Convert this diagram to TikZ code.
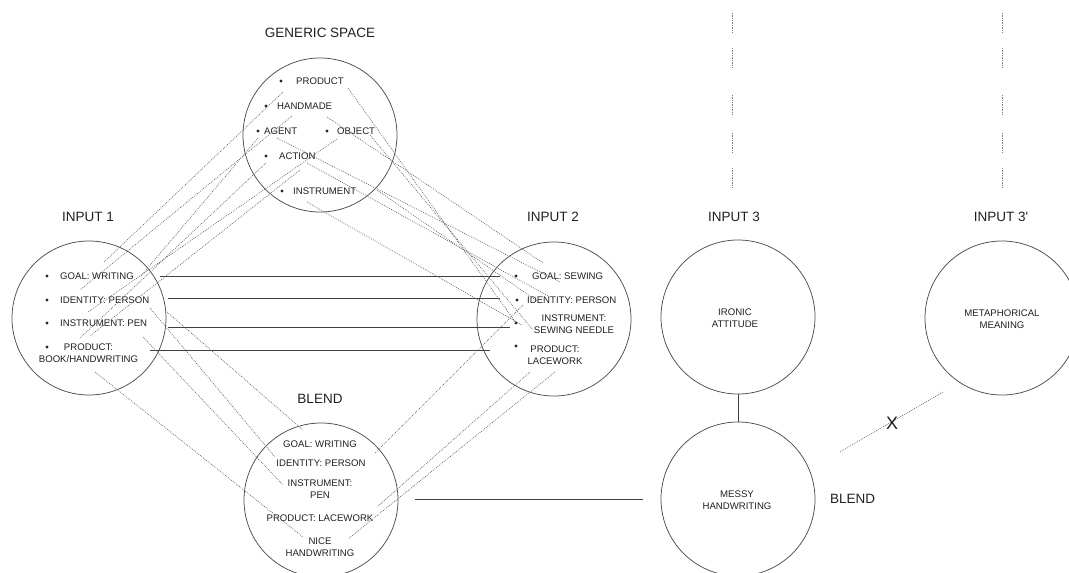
\documentclass[tikz,border=0pt]{standalone}
\usepackage{fontspec}
\newfontfamily\dfont{Liberation Sans}
\begin{document}
\begin{tikzpicture}[x=1pt,y=-1pt,
  ink/.style={text=black!88},
  space/.style={circle,draw=black!70,line width=0.75pt,minimum size=154pt,inner sep=0pt},
  title/.style={ink,font=\dfont\fontsize{13.5}{16}\selectfont,inner sep=0pt},
  item/.style={ink,font=\dfont\fontsize{9.6}{12}\selectfont,inner sep=0pt,anchor=west,text height=7pt,text depth=0pt},
  citem/.style={ink,font=\dfont\fontsize{9.6}{12}\selectfont,inner sep=0pt,align=center},
  bul/.style={circle,fill=black!85,inner sep=0pt,minimum size=3.3pt},
  link/.style={draw=black!75,line width=0.65pt},
  map/.style={draw=black!62,line width=0.7pt,dash pattern=on 0.8pt off 1.2pt},
  tick/.style={draw=black!50,line width=0.55pt,dash pattern=on 0.7pt off 1pt}]
\useasboundingbox (0,0) rectangle (1069,573);

% ---- mental spaces ----
\node[space] (gen)  at (320,135) {};
\node[space] (in1)  at (89,318)  {};
\node[space] (in2)  at (554,319) {};
\node[space] (bl)   at (321,500) {};
\node[space] (in3)  at (738,317) {};
\node[space] (in3p) at (1002,318) {};
\node[space] (bl2)  at (738,499) {};

% ---- titles ----
\node[title] (tgen)  at (320,33)  {GENERIC SPACE};
\node[title] (tin1)  at (88,217)  {INPUT 1};
\node[title] (tin2)  at (553,217) {INPUT 2};
\node[title] (tbl)   at (320,399) {BLEND};
\node[title] (tin3)  at (734,217) {INPUT 3};
\node[title] (tin3p) at (1001,217) {INPUT 3'};
\node[title,anchor=west] (tbl2) at (830,499) {BLEND};

% ---- generic space ----
\node[bul] (gb1) at (281,81)  {}; \node[item] (gprod) at (296,81)  {PRODUCT};
\node[bul] (gb2) at (266,106) {}; \node[item] (ghand) at (277,106) {HANDMADE};
\node[bul] (gb3) at (258,131) {}; \node[item] (gagen) at (264,131) {AGENT};
\node[bul] (gb4) at (327,131) {}; \node[item] (gobj)  at (337,131) {OBJECT};
\node[bul] (gb5) at (266,156) {}; \node[item] (gact)  at (279,156) {ACTION};
\node[bul] (gb6) at (282,191) {}; \node[item] (ginst) at (293,191) {INSTRUMENT};

% ---- input 1 ----
\node[bul] (ab1) at (47,276) {}; \node[item] (agoal) at (60,276) {GOAL: WRITING};
\node[bul] (ab2) at (47,300) {}; \node[item] (aid)   at (60,300) {IDENTITY: PERSON};
\node[bul] (ab3) at (47,323) {}; \node[item] (ainst) at (60,323) {INSTRUMENT: PEN};
\node[bul] (ab4) at (47,347) {}; \node[citem] (aprod) at (88.5,353) {PRODUCT:\\BOOK/HANDWRITING};

% ---- input 2 ----
\node[bul] (bb1) at (516,276) {}; \node[item] (bgoal) at (532,276) {GOAL: SEWING};
\node[bul] (bb2) at (517,300) {}; \node[item] (bid)   at (527,300) {IDENTITY: PERSON};
\node[bul] (bb3) at (516,323) {}; \node[citem] (binst) at (574,324) {INSTRUMENT:\\SEWING NEEDLE};
\node[bul] (bb4) at (516,346) {}; \node[citem] (bprod) at (555,355) {PRODUCT:\\LACEWORK};

% ---- blend ----
\node[citem] (cgoal) at (320,444) {GOAL: WRITING};
\node[citem] (cid)   at (321,463) {IDENTITY: PERSON};
\node[citem] (cinst) at (320,489) {INSTRUMENT:\\PEN};
\node[citem] (cprod) at (320,518) {PRODUCT: LACEWORK};
\node[citem] (cnice) at (320,547) {NICE\\HANDWRITING};

% ---- second network ----
\node[citem] (iron) at (735,318)  {IRONIC\\ATTITUDE};
\node[citem] (meta) at (1002,319) {METAPHORICAL\\MEANING};
\node[citem] (mess) at (737,500)  {MESSY\\HANDWRITING};

% ---- cross-space counterpart links ----
\coordinate (h1a) at (160,276); \coordinate (h1b) at (500,276);
\coordinate (h2a) at (168,298); \coordinate (h2b) at (500,298);
\coordinate (h3a) at (168,327); \coordinate (h3b) at (510,327);
\coordinate (h4a) at (150,350); \coordinate (h4b) at (490,350);
\draw[link] (h1a) -- (h1b);
\draw[link] (h2a) -- (h2b);
\draw[link] (h3a) -- (h3b);
\draw[link] (h4a) -- (h4b);

% blend to blend, input 3 to blend
\coordinate (bba) at (415,499); \coordinate (bbb) at (643,499);
\draw[link] (bba) -- (bbb);
\draw[link] (in3) -- (bl2);

% ---- generic space to input 1 ----
\coordinate (p1) at (283,92);  \coordinate (q1) at (104,262);
\coordinate (p2) at (292,116); \coordinate (q2) at (80,290);
\coordinate (p3) at (258,138); \coordinate (q3) at (140,277);
\coordinate (p4) at (337,139); \coordinate (q4) at (88,312);
\coordinate (p5) at (266,163); \coordinate (q5) at (80,338);
\coordinate (p6) at (300,170); \coordinate (q6) at (90,336);
\foreach \i in {1,...,6} \draw[map] (p\i) -- (q\i);

% ---- generic space to input 2 ----
\coordinate (r1) at (348,88);  \coordinate (s1) at (516,323);
\coordinate (r2) at (370,135); \coordinate (s2) at (533,330);
\coordinate (r3) at (327,117); \coordinate (s3) at (543,263);
\coordinate (r4) at (307,163); \coordinate (s4) at (550,297);
\coordinate (r5) at (377,190); \coordinate (s5) at (540,303);
\coordinate (r6) at (307,202); \coordinate (s6) at (522,325);
\coordinate (r7) at (277,138); \coordinate (s7) at (560,282);
\foreach \i in {1,...,7} \draw[map] (r\i) -- (s\i);

% ---- inputs to blend ----
\coordinate (t1) at (167,312); \coordinate (u1) at (303,430);
\coordinate (t2) at (150,308); \coordinate (u2) at (275,457);
\coordinate (t3) at (143,337); \coordinate (u3) at (283,485);
\coordinate (t4) at (95,372);  \coordinate (u4) at (303,537);
\coordinate (t5) at (523,305); \coordinate (u5) at (375,453);
\coordinate (t6) at (530,372); \coordinate (u6) at (377,507);
\coordinate (t7) at (555,372); \coordinate (u7) at (348,539);
\foreach \i in {1,...,7} \draw[map] (t\i) -- (u\i);

% ---- blocked projection ----
\coordinate (xa) at (840,452); \coordinate (xb) at (943,392);
\draw[map] (xa) -- (xb);
\node[ink,font=\dfont\fontsize{18}{20}\selectfont,inner sep=0pt] (xmark) at (892,423) {X};

% ---- vertical continuation marks ----
\foreach \cx in {732,1002}
  \foreach \ya/\yb in {13/33,48/68,95/115,133/153,168/188}
    \draw[tick] (\cx,\ya) -- (\cx,\yb);
\end{tikzpicture}
\end{document}
